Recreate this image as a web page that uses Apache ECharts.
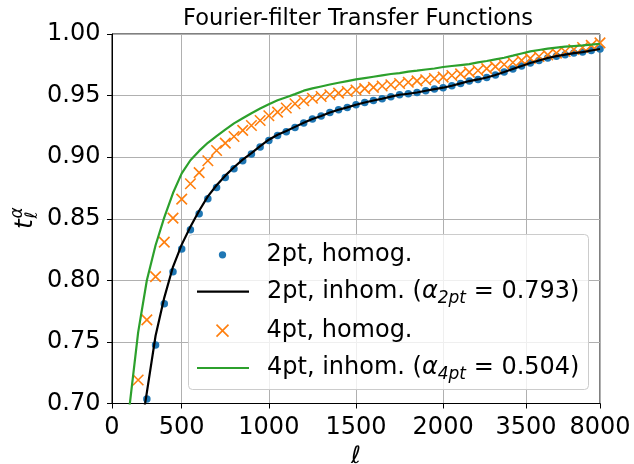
<!DOCTYPE html>
<html><head><meta charset="utf-8">
<script src="https://cdn.jsdelivr.net/npm/echarts@6/dist/echarts.min.js"></script>
<style>html,body{margin:0;padding:0;background:#fff}#c{width:634px;height:464px}</style>
</head><body><div id="c"></div>
<script>
// ---- data ----
const xTickLabels = ['0', '500', '1000', '1500', '2000', '3500', '8000'];
const xTickBins = [0, 8, 18, 28, 38, 47.5, 56];   // bin-index position of each ell tick

const homog2ptFirstBin = 4;
const homog2pt = [0.7037, 0.7475, 0.7809, 0.8069, 0.8255, 0.8410, 0.8540, 0.8662, 0.8754, 0.8835,
  0.8906, 0.8970, 0.9025, 0.9082, 0.9135, 0.9176, 0.9206, 0.9241, 0.9277, 0.9310,
  0.9334, 0.9363, 0.9385, 0.9404, 0.9426, 0.9444, 0.9460, 0.9474, 0.9491, 0.9507,
  0.9515, 0.9525, 0.9539, 0.9553, 0.9564, 0.9580, 0.9599, 0.9618, 0.9631, 0.9647,
  0.9667, 0.9691, 0.9716, 0.9740, 0.9764, 0.9785, 0.9805, 0.9820, 0.9832, 0.9845,
  0.9853, 0.9866, 0.9878];

const inhom2ptFirstBin = 3;
const inhom2pt = [0.664, 0.709, 0.755, 0.786, 0.811, 0.829, 0.8435, 0.8565, 0.8682, 0.8772,
  0.8850, 0.8918, 0.8980, 0.9033, 0.9090, 0.9142, 0.9182, 0.9212, 0.9246, 0.9280,
  0.9310, 0.9334, 0.9363, 0.9385, 0.9404, 0.9426, 0.9444, 0.9460, 0.9474, 0.9491,
  0.9507, 0.9515, 0.9525, 0.9539, 0.9553, 0.9564, 0.9580, 0.9599, 0.9618, 0.9631,
  0.9647, 0.9667, 0.9691, 0.9716, 0.9740, 0.9764, 0.9785, 0.9805, 0.9820, 0.9832,
  0.9845, 0.9853, 0.9866, 0.9878];

const homog4ptFirstBin = 3;
const homog4pt = [0.7191, 0.7679, 0.8030, 0.8310, 0.8505, 0.8659, 0.8784, 0.8875, 0.8971, 0.9054,
  0.9114, 0.9168, 0.9217, 0.9257, 0.9298, 0.9336, 0.9366, 0.9399, 0.9434, 0.9458,
  0.9478, 0.9493, 0.9507, 0.9520, 0.9533, 0.9545, 0.9556, 0.9567, 0.9578, 0.9588,
  0.9598, 0.9608, 0.9619, 0.9629, 0.9639, 0.9650, 0.9663, 0.9676, 0.9690, 0.9704,
  0.9719, 0.9735, 0.9752, 0.9769, 0.9786, 0.9802, 0.9817, 0.9831, 0.9845, 0.9858,
  0.9874, 0.9890, 0.9908, 0.9928];

const inhom4ptFirstBin = 2;
const inhom4pt = [0.697, 0.7577, 0.8001, 0.8285, 0.8511, 0.8709, 0.8868, 0.8975, 0.9051, 0.9117,
  0.9171, 0.9223, 0.9274, 0.9316, 0.9357, 0.9395, 0.9430, 0.9462, 0.9487, 0.9512,
  0.9540, 0.9558, 0.9574, 0.9590, 0.9604, 0.9618, 0.9631, 0.9642, 0.9653, 0.9664,
  0.9675, 0.9683, 0.9694, 0.9702, 0.9712, 0.9720, 0.9732, 0.9740, 0.9748, 0.9756,
  0.9769, 0.9781, 0.9794, 0.9807, 0.9824, 0.9842, 0.9859, 0.9870, 0.9881, 0.9889,
  0.9897, 0.9902, 0.9907, 0.9913, 0.9921];

const alpha2pt = '0.793';
const alpha4pt = '0.504';

// ---- chart ----
const FONT = 'DejaVu Sans';
const FS = 24;
const C_BLUE = '#1f77b4', C_ORANGE = '#ff7f0e', C_GREEN = '#2ca02c', C_BLACK = '#000000';
const N_H2 = '2pt, homog.', N_I2 = '2pt, inhom.', N_H4 = '4pt, homog.', N_I4 = '4pt, inhom.';
const X_PATH = 'path://M0,0L12,12M12,0L0,12';
const LINE_ICON = 'path://M0,0H52V2.2H0Z';

function toPairs(vals, first) { return vals.map((v, k) => [first + k, v]); }

function legendLabel(name) {
  if (name === N_I2) return name + ' ({it|α}{sub|2pt} = ' + alpha2pt + ')';
  if (name === N_I4) return name + ' ({it|α}{sub|4pt} = ' + alpha4pt + ')';
  return name;
}

function mkLegend(item, left, top, itemHeight, extra) {
  return Object.assign({
    data: [item], orient: 'vertical', left: left, top: top,
    itemWidth: 52, itemHeight: itemHeight, selectedMode: false, padding: 0, itemGap: 0, z: 5,
    formatter: legendLabel,
    textStyle: {
      fontFamily: FONT, fontSize: FS, color: '#000', padding: [0, 0, 0, 13],
      rich: {
        it: { fontFamily: FONT, fontStyle: 'italic', fontSize: FS, color: '#000' },
        sub: { fontFamily: FONT, fontStyle: 'italic', fontSize: 17, color: '#000', padding: [13, 0, 0, 0] }
      }
    }
  }, extra || {});
}

const chart = echarts.init(document.getElementById('c'), null, { renderer: 'canvas' });
chart.setOption({
  backgroundColor: '#ffffff',
  animation: false,
  title: {
    text: 'Fourier-filter Transfer Functions', left: 353, top: 3, textAlign: 'center',
    textStyle: { fontFamily: FONT, fontSize: 22.5, fontWeight: 'normal', color: '#000' }
  },
  grid: { left: 112, top: 34, width: 488, height: 369.5, show: true, borderColor: '#000', borderWidth: 1,
    backgroundColor: 'transparent', containLabel: false, outerBoundsMode: 'none' },
  xAxis: {
    type: 'value', min: 0, max: 56,
    name: 'ℓ', nameLocation: 'middle', nameGap: 37,
    nameTextStyle: { fontFamily: FONT, fontStyle: 'italic', fontSize: FS, color: '#000' },
    axisLine: { show: true, onZero: false, lineStyle: { color: '#000', width: 1 } },
    axisTick: { show: true, customValues: xTickBins, length: 5, lineStyle: { color: '#000', width: 1 } },
    axisLabel: {
      customValues: xTickBins, margin: 12,
      fontFamily: FONT, fontSize: FS, color: '#000',
      formatter: (v) => { const k = xTickBins.indexOf(v); return k >= 0 ? xTickLabels[k] : ''; }
    },
    splitLine: { show: true, lineStyle: { color: '#b0b0b0', width: 1 } }
  },
  yAxis: {
    type: 'value', min: 0.70, max: 1.00, interval: 0.05,
    axisLine: { show: true, onZero: false, lineStyle: { color: '#000', width: 1 } },
    axisTick: { show: true, length: 5, lineStyle: { color: '#000', width: 1 } },
    axisLabel: { margin: 11.5, fontFamily: FONT, fontSize: FS, color: '#000', formatter: (v) => v.toFixed(2) },
    splitLine: { show: true, lineStyle: { color: '#b0b0b0', width: 1 } }
  },
  legend: [
    mkLegend({ name: N_H2, icon: 'circle' }, 218.85, 242.8, 7.3, { itemStyle: { opacity: 1, color: C_BLUE } }),
    mkLegend({ name: N_I2, icon: LINE_ICON }, 197, 279.6, 8),
    mkLegend({ name: N_H4, icon: X_PATH }, 215.7, 318.6, 12, { itemStyle: { opacity: 1, borderWidth: 1.6, borderColor: C_ORANGE, color: 'rgba(0,0,0,0)' } }),
    mkLegend({ name: N_I4, icon: LINE_ICON }, 197, 356, 8)
  ],
  graphic: [
    { type: 'rect', z: 3, shape: { x: 188.5, y: 234.5, width: 400, height: 155, r: 4 },
      style: { fill: 'rgba(255,255,255,0.8)', stroke: '#cccccc', lineWidth: 1 } },
    { type: 'group', x: 25, y: 222, rotation: Math.PI / 2, z: 10, children: [
      { type: 'text', x: -7, y: 0, style: { text: 't', font: 'italic 25px "DejaVu Sans"', fill: '#000', textAlign: 'left', textVerticalAlign: 'middle' } },
      { type: 'text', x: 3.5, y: -7.5, style: { text: 'α', font: 'italic 17px "DejaVu Sans"', fill: '#000', textAlign: 'left', textVerticalAlign: 'middle' } },
      { type: 'text', x: 3.5, y: 7.5, style: { text: 'ℓ', font: 'italic 17px "DejaVu Sans"', fill: '#000', textAlign: 'left', textVerticalAlign: 'middle' } }
    ] }
  ],
  series: [
    { name: N_H2, type: 'scatter', data: toPairs(homog2pt, homog2ptFirstBin),
      symbol: 'circle', symbolSize: 7.5, itemStyle: { color: C_BLUE, opacity: 1 } },
    { name: N_I2, type: 'line', data: toPairs(inhom2pt, inhom2ptFirstBin),
      symbol: 'none', clip: true, color: C_BLACK, lineStyle: { color: C_BLACK, width: 2.2 } },
    { name: N_H4, type: 'scatter', data: toPairs(homog4pt, homog4ptFirstBin),
      symbol: X_PATH, symbolSize: 10.5, itemStyle: { color: 'rgba(0,0,0,0)', borderColor: C_ORANGE, borderWidth: 1.6, opacity: 1 } },
    { name: N_I4, type: 'line', data: toPairs(inhom4pt, inhom4ptFirstBin),
      symbol: 'none', clip: true, color: C_GREEN, lineStyle: { color: C_GREEN, width: 2.2 } }
  ]
});
</script></body></html>
